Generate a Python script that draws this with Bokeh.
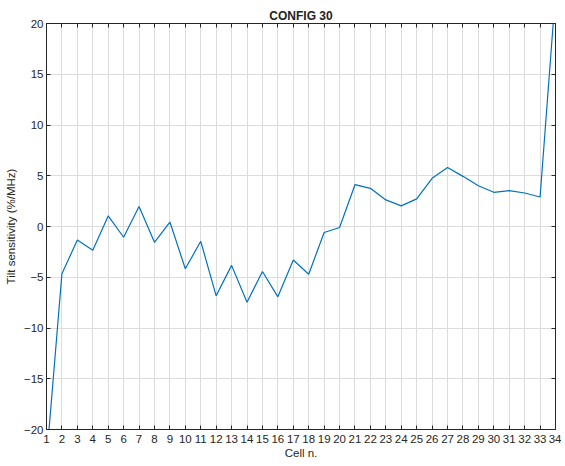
from bokeh.plotting import figure
from bokeh.models import Range1d, LinearAxis, FixedTicker, CustomJSTickFormatter
from bokeh.embed import file_html
from bokeh.resources import INLINE

cells = list(range(1, 35))
sensitivity = [-23.0, -4.66, -1.33, -2.33, 1.04, -1.06, 1.97, -1.56, 0.44, -4.16,
               -1.46, -6.83, -3.83, -7.46, -4.43, -6.93, -3.3, -4.7, -0.59, -0.1,
               4.12, 3.76, 2.62, 2.03, 2.72, 4.75, 5.82, 4.94, 4.02, 3.37,
               3.53, 3.3, 2.91, 23.0]
x_ticks = list(range(1, 35))
y_ticks = [-20, -15, -10, -5, 0, 5, 10, 15, 20]

FONT = "Liberation Sans"

p = figure(width=561, height=462, output_backend="svg", toolbar_location=None,
           x_range=Range1d(1, 34), y_range=Range1d(-20, 20),
           min_border_left=46, min_border_right=6, min_border_top=23, min_border_bottom=33)
p.title.text = "CONFIG 30"
p.title.align = "center"
p.title.text_font = FONT
p.title.text_font_size = "12px"
p.title.text_font_style = "bold"
p.title.text_color = "#222222"
p.title.standoff = 2

p.line(cells, sensitivity, line_color="#0072BD", line_width=1.2)

p.xaxis.ticker = FixedTicker(ticks=x_ticks)
p.yaxis.ticker = FixedTicker(ticks=y_ticks)
p.xaxis.axis_label = "Cell n."
p.yaxis.axis_label = "Tilt sensitivity (%/MHz)"
for ax in (p.xaxis[0], p.yaxis[0]):
    ax.major_tick_in = 4
    ax.major_tick_out = 0
    ax.minor_tick_line_color = None
    ax.major_label_text_font = FONT
    ax.major_label_text_font_size = "11.5px"
    ax.major_label_text_color = "#262626"
    ax.axis_label_text_font = FONT
    ax.axis_label_text_font_size = "11.5px"
    ax.axis_label_text_font_style = "normal"
    ax.axis_label_text_color = "#262626"
    ax.axis_line_color = "#262626"
    ax.major_tick_line_color = "#262626"
p.xaxis.major_label_standoff = 5
p.xaxis.axis_label_standoff = 1
p.yaxis.major_label_standoff = 3
p.yaxis.axis_label_standoff = 4

blank = CustomJSTickFormatter(code="return '';")
top = LinearAxis(ticker=FixedTicker(ticks=x_ticks), formatter=blank,
                 major_label_standoff=0, major_tick_in=4, major_tick_out=0,
                 minor_tick_line_color=None,
                 axis_line_color="#262626", major_tick_line_color="#262626")
right = LinearAxis(ticker=FixedTicker(ticks=y_ticks), formatter=blank,
                   major_label_standoff=0, major_tick_in=4, major_tick_out=0,
                   minor_tick_line_color=None,
                   axis_line_color="#262626", major_tick_line_color="#262626")
p.add_layout(top, "above")
p.add_layout(right, "right")

p.xgrid.ticker = FixedTicker(ticks=x_ticks)
p.xgrid.grid_line_color = "#dcdcdc"
p.ygrid.grid_line_color = "#dcdcdc"
p.outline_line_color = "#262626"
p.background_fill_color = "white"
p.border_fill_color = "white"

open("out.html", "w").write(file_html(p, INLINE))
